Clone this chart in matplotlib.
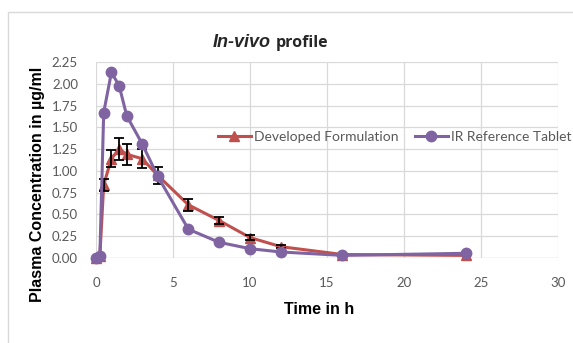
import matplotlib
matplotlib.use("Agg")
import matplotlib.pyplot as plt
from matplotlib.patches import Rectangle

# Sampling times (h)
time_dev = [0, 0.25, 0.5, 1, 1.5, 2, 3, 4, 6, 8, 10, 12, 16, 24]
time_ref = [0, 0.25, 0.5, 1, 1.5, 2, 3, 4, 6, 8, 10, 12, 16, 24]

# Mean plasma concentrations (µg/ml)
conc_dev = [0.00, 0.02, 0.84, 1.14, 1.25, 1.19, 1.14, 0.95, 0.61, 0.43, 0.235, 0.13, 0.04, 0.03]
sd_dev = [0.00, 0.00, 0.07, 0.10, 0.13, 0.12, 0.11, 0.10, 0.07, 0.045, 0.03, 0.02, 0.00, 0.00]
conc_ref = [0.00, 0.02, 1.67, 2.13, 1.98, 1.63, 1.31, 0.94, 0.33, 0.18, 0.107, 0.069, 0.03, 0.054]

series_names = ["Developed Formulation", "IR Reference Tablet"]
x_ticks = [0, 5, 10, 15, 20, 25, 30]
y_ticks = [0.00, 0.25, 0.50, 0.75, 1.00, 1.25, 1.50, 1.75, 2.00, 2.25]

RED = "#C0504D"
PURPLE = "#8064A2"
GRAY = "#595959"
TICK_FONT = "Lato"
LABEL_FONT = "Liberation Sans"

W, H = 573, 343
fig = plt.figure(figsize=(W / 100, H / 100), dpi=100)
fig.patch.set_facecolor("white")

# chart frame
fig.patches.append(Rectangle((8 / W, -0.01), 1.0, 1 - 12 / H + 0.01,
                             transform=fig.transFigure, fill=False,
                             edgecolor="#D9D9D9", linewidth=1.0))

ax = fig.add_axes([96 / W, 1 - 258 / H, (558 - 96) / W, (258 - 62) / H])
ax.set_xlim(0, 30)
ax.set_ylim(0, 2.25)
ax.set_xticks(x_ticks)
ax.set_yticks(y_ticks)
ax.set_xticklabels([str(v) for v in x_ticks])
ax.set_yticklabels([f"{v:.2f}" for v in y_ticks])
ax.tick_params(length=0, colors=GRAY, labelsize=9.5)
ax.tick_params(axis="x", pad=14)
ax.tick_params(axis="y", pad=13)
for lbl in ax.get_xticklabels() + ax.get_yticklabels():
    lbl.set_family(TICK_FONT)
ax.grid(True, color="#D9D9D9", linewidth=0.9)
ax.set_axisbelow(True)
for s in ax.spines.values():
    s.set_visible(False)
ax.axhline(0, color="#D9D9D9", linewidth=0.9, zorder=0.5)

ax.errorbar(time_dev, conc_dev, yerr=sd_dev, fmt="none", ecolor="black",
            elinewidth=1.3, capsize=3.5, capthick=1.3, zorder=3)
ax.plot(time_dev, conc_dev, color=RED, linewidth=2.2, marker="^",
        markersize=7.5, label=series_names[0], zorder=2, clip_on=False)
ax.plot(time_ref, conc_ref, color=PURPLE, linewidth=2.2, marker="o",
        markersize=7.5, label=series_names[1], zorder=4, clip_on=False)

leg = fig.legend(loc="center left", bbox_to_anchor=(205 / W, 1 - 137 / H),
                 ncol=2, frameon=False, handlelength=2.4, handletextpad=0.2,
                 columnspacing=1.2, prop={"family": TICK_FONT, "size": 10})
for t in leg.get_texts():
    t.set_color(GRAY)

# title
fig.text(271 / W, 1 - 47 / H, "In-vivo", ha="right", va="baseline",
         family=LABEL_FONT, weight="bold", style="italic", size=13, color="#262626")
fig.text(276 / W, 1 - 47 / H, "profile", ha="left", va="baseline",
         family="Open Sans", weight="bold", size=11.5, color="#262626")

# axis titles
fig.text(319 / W, 1 - 310 / H, "Time in h", ha="center", va="center",
         family=LABEL_FONT, weight="bold", size=11.5, color="black")
fig.text(38 / W, 1 - 184 / H, "Plasma Concentration in µg/ml", ha="center",
         va="center", rotation=90, family=LABEL_FONT, weight="bold",
         size=11.5, color="black")

fig.savefig("out.png", dpi=100, facecolor="white")
